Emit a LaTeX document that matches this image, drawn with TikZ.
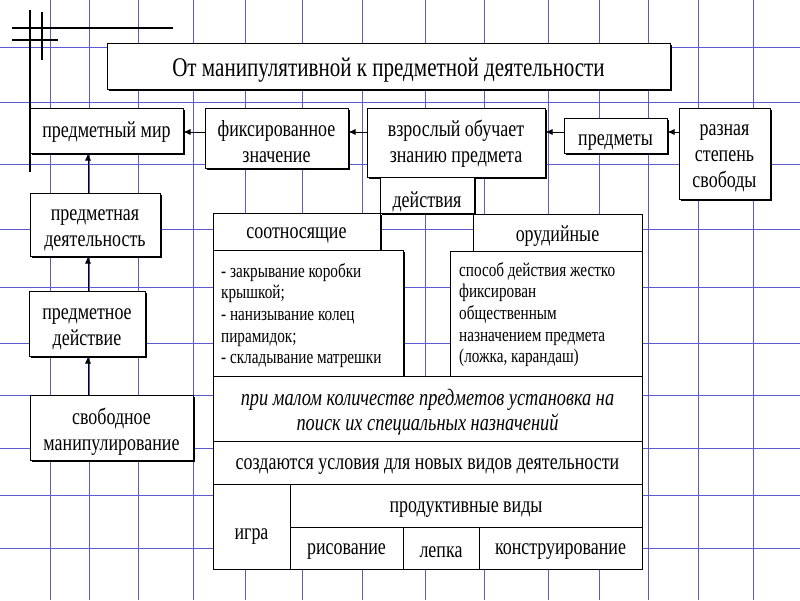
\documentclass[tikz,border=0pt]{standalone}
\usepackage{fontspec}
\setmainfont{Liberation Serif}[FakeStretch=0.78]
\usetikzlibrary{shadows,arrows.meta}
\begin{document}
\begin{tikzpicture}[x=1pt,y=-1pt,
  gridline/.style={draw={rgb,255:red,90;green,90;blue,210}, line width=0.85pt},
  deco/.style={line width=2.8pt, black},
  box/.style={draw=black, fill=white, line width=1pt, inner sep=0pt},
  sbox/.style={box, drop shadow={shadow xshift=1.6pt, shadow yshift=-1.6pt, opacity=1, fill=black}},
  lbl/.style={align=center, inner sep=0pt, yshift=-4pt, font=\fontsize{23}{26}\selectfont},
  T/.style={label={[lbl]center:{#1}}},
  cell/.style={anchor=north west, align=left, inner sep=0pt, font=\fontsize{19.5}{21.7}\selectfont},
  arr/.style={-{Latex[length=7pt,width=6pt]}, line width=0.8pt},
]
\fill[white] (0,0) rectangle (800,600);
\useasboundingbox (0,0) rectangle (800,600);
\foreach \x in {50,89,138,193,245,302,362,425,484,548,599,648,698,753} \draw[gridline] (\x,0) -- (\x,600);
\foreach \y in {47,102,164,229,287,343,395,448,495,548} \draw[gridline] (0,\y) -- (800,\y);

% top row
\node[sbox, minimum width=563pt, minimum height=46pt, label={[lbl, font=\fontsize{27}{30}\selectfont]center:{От манипулятивной к предметной деятельности}}] (title) at (388.5,66) {};
\node[sbox, minimum width=153pt, minimum height=45pt, label={[lbl, yshift=2pt]center:{предметный мир}}] (mir) at (106.5,130.5) {};
\node[sbox, minimum width=143pt, minimum height=60pt, T={фиксированное\\значение}] (fix) at (276.5,138) {};
\node[sbox, minimum width=178pt, minimum height=69pt, label={[lbl, yshift=3pt]center:{взрослый обучает\\знанию предмета}}] (vzr) at (456,142.5) {};
\node[sbox, minimum width=103pt, minimum height=35pt, label={[lbl, yshift=-3pt]center:{предметы}}] (pm) at (615.5,135.5) {};
\node[sbox, minimum width=91pt, minimum height=91pt, label={[lbl, yshift=-1pt]center:{разная\\степень\\свободы}}] (raz) at (724.5,153.5) {};
\node[sbox, minimum width=94pt, minimum height=36pt, label={[lbl, yshift=-3pt]center:{действия}}] (dey) at (427,195) {};

% left column
\node[sbox, minimum width=130pt, minimum height=63pt, label={[lbl, yshift=-2pt]center:{предметная\\деятельность}}] (pdeyat) at (95,224.5) {};
\node[sbox, minimum width=116pt, minimum height=65pt, label={[lbl, yshift=-2pt]center:{предметное\\действие}}] (pdeystv) at (87,323.5) {};
\node[sbox, minimum width=163pt, minimum height=65pt, T={свободное\\манипулирование}] (svob) at (111.5,427.5) {};

% table
\node[sbox, minimum width=167pt, minimum height=37pt, T={соотносящие}] (sootn) at (296.5,231.5) {};
\node[box, minimum width=169pt, minimum height=37pt, T={орудийные}] (orud) at (557.5,232.5) {};
\node[sbox, minimum width=190pt, minimum height=126pt] (list) at (308,313) {};
\node[box, minimum width=192pt, minimum height=125pt] (right) at (546,313.5) {};
\node[cell] (listtxt) at (221,263) {- закрывание коробки\\крышкой;\\- нанизывание колец\\пирамидок;\\- складывание матрешки};
\node[cell] (righttxt) at (459,262) {способ действия жестко\\фиксирован\\общественным\\назначением предмета\\(ложка, карандаш)};
\node[box, minimum width=429pt, minimum height=65pt, label={[lbl, font=\fontsize{23.5}{25}\selectfont\itshape]center:{при малом количестве предметов установка на\\поиск их специальных назначений}}] (ital) at (427.5,408.5) {};
\node[box, minimum width=429pt, minimum height=43pt, T={создаются условия для новых видов деятельности}] (sozd) at (427.5,462.5) {};
\node[box, minimum width=77pt, minimum height=85pt, label={[lbl, yshift=-6pt]center:{игра}}] (igra) at (251.5,526.5) {};
\node[box, minimum width=352pt, minimum height=43pt, T={продуктивные виды}] (prod) at (466,505.5) {};
\node[box, minimum width=113pt, minimum height=42pt, T={рисование}] (ris) at (346.5,548) {};
\node[box, minimum width=76pt, minimum height=42pt, T={лепка}] (lep) at (441,548) {};
\node[box, minimum width=163pt, minimum height=42pt, T={конструирование}] (kon) at (560.5,548) {};

% decorative lines
\draw[deco] (30,10) -- (30,172);
\draw[deco] (42,12) -- (42,60);
\draw[deco] (12,28) -- (173,28);
\draw[deco] (12,40) -- (58,40);

% arrows
\coordinate (ah) at (0,132);
\coordinate (av) at (88,0);
\draw[arr] (raz.west |- ah) -- (pm.east |- ah);
\draw[arr] (pm.west |- ah) -- (vzr.east |- ah);
\draw[arr] (vzr.west |- ah) -- (fix.east |- ah);
\draw[arr] (fix.west |- ah) -- (mir.east |- ah);
\draw[arr] (svob.north -| av) -- (pdeystv.south -| av);
\draw[arr] (pdeystv.north -| av) -- (pdeyat.south -| av);
\draw[arr] (pdeyat.north -| av) -- (mir.south -| av);
\end{tikzpicture}
\end{document}
